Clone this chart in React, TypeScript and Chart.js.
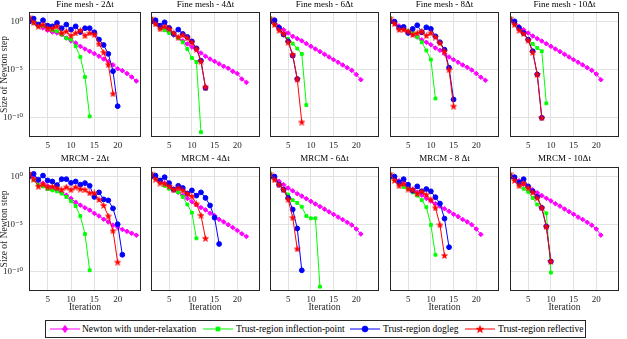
import React, { useEffect, useRef } from "react";
import { Chart, registerables } from "chart.js";

Chart.register(...registerables);

// ---------------- data: log10(size of Newton step) per iteration (1, 2, 3, ...) ----------------
const fine2Newton = [0.3, -0.14, -0.42, -0.66, -0.9, -1.08, -1.18, -1.35, -1.7, -2.0, -2.22, -2.57, -2.85, -3.08, -3.33, -3.6, -3.89, -4.16, -4.5, -4.9, -5.1, -5.4, -5.76, -6.18];
const fine2Inflection = [0.38, -0.14, -0.49, -0.42, -0.66, -0.9, -1.0, -1.35, -1.73, -1.87, -2.57, -3.68, -5.76, -9.86];
const fine2Dogleg = [0, 0.31, -0.31, 0.14, -0.42, -0.49, -0.14, -0.69, -0.31, -0.83, -0.49, -1.08, -0.69, -0.69, -1.11, -1.87, -2.43, -3.36, -5.16, -8.8];
const fine2Reflective = [0.49, -0.07, -0.49, -0.31, -0.69, -0.69, -0.49, -1.18, -1.0, -1.46, -1.18, -0.9, -1.46, -1.18, -1.35, -2.32, -3.19, -4.47, -7.5];

const fine4Newton = [0.2, -0.2, -0.5, -0.8, -1.1, -1.4, -1.7, -2.0, -2.32, -2.64, -2.92, -3.26, -3.6, -3.89, -4.13, -4.4, -4.64, -4.85, -5.17, -5.4, -5.97, -6.32];
const fine4Inflection = [0.28, -0.2, -0.66, -0.9, -1.18, -1.35, -1.7, -2.15, -2.85, -3.78, -4.2, -11.5];
const fine4Dogleg = [0, 0.14, -0.42, -0.07, -0.66, -1.28, -0.83, -1.28, -1.6, -2.05, -2.78, -4.06, -6.9];
const fine4Reflective = [0.35, -0.24, -0.76, -0.49, -0.76, -1.18, -1.6, -1.39, -1.7, -2.15, -2.85, -4.13, -6.8];

const fine6Newton = [0.15, -0.2, -0.5, -0.85, -1.18, -1.53, -1.77, -2.0, -2.29, -2.57, -2.85, -3.12, -3.4, -3.68, -3.96, -4.23, -4.51, -4.79, -5.07, -5.5, -6.04];
const fine6Inflection = [0.38, -0.31, -0.83, -1.35, -1.8, -2.29, -2.8, -3.36, -8.68];
const fine6Dogleg = [0, 0.14, -0.66, -1.35, -2.05, -3.54, -5.97];
const fine6Reflective = [0.35, -0.31, -0.9, -1.25, -2.15, -3.43, -5.97, -10.45];

const fine8Newton = [0.25, -0.15, -0.45, -0.75, -1.05, -1.35, -1.6, -1.9, -2.15, -2.4, -2.74, -2.98, -3.33, -3.68, -3.96, -4.23, -4.51, -4.75, -5.03, -5.4, -5.78, -6.1];
const fine8Inflection = [0.38, -0.14, -0.66, -0.76, -1.0, -1.18, -1.63, -2.15, -3.0, -3.95, -8.0];
const fine8Dogleg = [0, 0, -0.66, -0.55, -1.18, -0.76, -0.38, -1.11, -0.59, -0.76, -1.53, -2.15, -2.92, -4.79, -8.1];
const fine8Reflective = [0.35, -0.21, -0.83, -0.83, -1.0, -1.35, -1.18, -1.0, -1.46, -1.18, -1.6, -2.22, -3.08, -5.0, -8.8];

const fine10Newton = [0.15, -0.2, -0.5, -0.85, -1.18, -1.5, -1.77, -2.02, -2.3, -2.57, -2.85, -3.12, -3.4, -3.68, -3.96, -4.23, -4.5, -4.79, -5.07, -5.45, -6.04];
const fine10Inflection = [0.38, -0.2, -0.76, -1.28, -1.8, -2.32, -2.74, -3.08, -8.5];
const fine10Dogleg = [0.14, 0.03, -0.66, -1.18, -1.87, -3.08, -5.5, -10.0];
const fine10Reflective = [0.35, -0.31, -0.9, -1.25, -1.94, -3.19, -5.5, -10.0];

const mrcm2Newton = [0.3, -0.1, -0.45, -0.7, -1.0, -1.25, -1.45, -1.7, -1.95, -2.3, -2.69, -3.0, -3.28, -3.52, -3.86, -4.14, -4.48, -4.76, -5.1, -5.3, -5.55, -5.75, -5.95, -6.15];
const mrcm2Inflection = [0.17, -0.34, -0.86, -1.03, -1.31, -1.45, -1.55, -1.79, -2.14, -2.59, -3.1, -4.14, -6.03, -9.83];
const mrcm2Dogleg = [0, 0.28, -0.34, 0.1, -0.41, -0.52, -0.9, -0.28, -0.28, -0.66, -0.52, -0.86, -0.69, -0.97, -2.14, -1.66, -2.4, -2.5, -3.34, -5.0, -8.2];
const mrcm2Reflective = [0.34, -0.28, -1.03, -0.79, -1.1, -1.03, -1.2, -1.38, -1.1, -1.38, -1.1, -1.31, -1.38, -1.72, -1.72, -2.41, -3.03, -4.14, -5.69, -8.97];

const mrcm4Newton = [0.25, -0.1, -0.4, -0.7, -1.0, -1.3, -1.65, -2.0, -2.3, -2.65, -2.95, -3.25, -3.5, -3.85, -4.1, -4.5, -4.75, -5.05, -5.35, -5.65, -6.0, -6.28];
const mrcm4Inflection = [0.28, -0.17, -0.62, -0.97, -1.28, -1.38, -1.66, -2.14, -2.93, -3.79, -6.48];
const mrcm4Dogleg = [0, 0.1, -0.41, -0.07, -0.69, -1.38, -0.97, -1.2, -1.79, -1.45, -2.0, -1.66, -2.24, -3.03, -4.31, -7.07];
const mrcm4Reflective = [0.34, -0.28, -0.69, -0.76, -1.03, -1.38, -1.2, -1.45, -1.79, -2.07, -2.86, -4.07, -6.48];

const mrcm6Newton = [0.2, -0.15, -0.5, -0.85, -1.2, -1.5, -1.8, -2.05, -2.32, -2.6, -2.88, -3.15, -3.42, -3.7, -3.97, -4.25, -4.52, -4.8, -5.08, -5.5, -6.03];
const mrcm6Inflection = [0.34, -0.28, -0.76, -1.31, -1.9, -2.48, -2.76, -3.17, -4.14, -4.38, -4.38, -11.55];
const mrcm6Dogleg = [0, 0, -0.86, -1.38, -2.24, -3.45, -5.45, -9.83];
const mrcm6Reflective = [0.28, -0.34, -0.86, -1.38, -2.41, -4.31, -7.59];

const mrcm8Newton = [0.25, -0.15, -0.45, -0.75, -1.05, -1.35, -1.65, -1.95, -2.3, -2.55, -2.85, -3.1, -3.38, -3.65, -3.95, -4.2, -4.5, -4.75, -5.05, -5.5, -6.07];
const mrcm8Inflection = [0.17, -0.34, -0.76, -1.1, -1.31, -1.66, -2.0, -2.48, -3.21, -5.07, -8.2];
const mrcm8Dogleg = [0, 0, -0.62, -0.28, -0.86, -1.48, -1.03, -1.55, -1.31, -1.55, -2.17, -2.83, -4.41, -7.41];
const mrcm8Reflective = [0.28, -0.41, -0.97, -0.76, -1.31, -1.38, -1.79, -1.55, -1.9, -2.41, -3.28, -5.07, -8.28];

const mrcm10Newton = [0.2, -0.15, -0.45, -0.8, -1.1, -1.4, -1.7, -2.0, -2.28, -2.55, -2.85, -3.1, -3.4, -3.68, -3.95, -4.25, -4.5, -4.8, -5.1, -5.5, -6.14];
const mrcm10Inflection = [0.17, -0.34, -0.86, -1.28, -1.6, -2.24, -2.93, -3.3, -3.86, -10.07];
const mrcm10Dogleg = [0, -0.07, -0.62, -0.28, -1.03, -1.55, -2.14, -3.28, -5.24, -8.9];
const mrcm10Reflective = [0.28, -0.41, -0.97, -0.69, -1.2, -1.66, -2.24, -3.28, -5.24, -8.9];

const ROW1_TITLES = ["Fine mesh - 2Δt", "Fine mesh - 4Δt", "Fine mesh - 6Δt", "Fine mesh - 8Δt", "Fine mesh - 10Δt"];
const ROW2_TITLES = ["MRCM - 2Δt", "MRCM - 4Δt", "MRCM - 6Δt", "MRCM - 8 Δt", "MRCM - 10Δt"];
const SERIES_LABELS = ["Newton with under-relaxation", "Trust-region inflection-point", "Trust-region dogleg", "Trust-region reflective"];
const SERIES_COLORS = ["#ff00ff", "#00ff00", "#0000ff", "#ff0000"];
const X_TICKS = [5, 10, 15, 20];
const Y_TICKS = [1e-10, 1e-5, 1];
const Y_TICK_LABELS = ["10⁻¹⁰", "10⁻⁵", "10⁰"];
const X_LABEL = "Iteration";
const Y_LABEL = "Size of Newton step";

const ROW1_SERIES = [
  [fine2Newton, fine2Inflection, fine2Dogleg, fine2Reflective],
  [fine4Newton, fine4Inflection, fine4Dogleg, fine4Reflective],
  [fine6Newton, fine6Inflection, fine6Dogleg, fine6Reflective],
  [fine8Newton, fine8Inflection, fine8Dogleg, fine8Reflective],
  [fine10Newton, fine10Inflection, fine10Dogleg, fine10Reflective],
];
const ROW2_SERIES = [
  [mrcm2Newton, mrcm2Inflection, mrcm2Dogleg, mrcm2Reflective],
  [mrcm4Newton, mrcm4Inflection, mrcm4Dogleg, mrcm4Reflective],
  [mrcm6Newton, mrcm6Inflection, mrcm6Dogleg, mrcm6Reflective],
  [mrcm8Newton, mrcm8Inflection, mrcm8Dogleg, mrcm8Reflective],
  [mrcm10Newton, mrcm10Inflection, mrcm10Dogleg, mrcm10Reflective],
];

// ---------------- layout ----------------
const FONT = "'Liberation Serif', 'DejaVu Serif', serif";
const PLOT_LEFT = [29, 148, 267, 387, 507];
const PLOT_W = 115;
const RIGHT_PAD = 2;
const ROW_CANVAS_TOP = [0, 154];
const PLOT_TOP = [12, 167];
const PLOT_H = [125, 124];
const X_AXIS_H = [14, 24];
const GRID = "#e2e2e2";
const FRAME = "#262626";

Chart.defaults.font.family = FONT;

function makeStar(color: string): HTMLCanvasElement {
  const c = document.createElement("canvas");
  c.width = 7;
  c.height = 7;
  const ctx = c.getContext("2d")!;
  ctx.fillStyle = color;
  ctx.strokeStyle = color;
  ctx.lineWidth = 0.6;
  ctx.beginPath();
  for (let i = 0; i < 10; i++) {
    const r = i % 2 === 0 ? 3.2 : 1.35;
    const a = -Math.PI / 2 + (i * Math.PI) / 5;
    const px = 3.5 + r * Math.cos(a);
    const py = 3.8 + r * Math.sin(a);
    if (i === 0) ctx.moveTo(px, py);
    else ctx.lineTo(px, py);
  }
  ctx.closePath();
  ctx.fill();
  ctx.stroke();
  return c;
}

const framePlugin = {
  id: "frame",
  afterDraw(chart: any) {
    const { ctx, chartArea } = chart;
    const l = Math.round(chartArea.left) + 0.5;
    const t = Math.round(chartArea.top) + 0.5;
    const r = Math.round(chartArea.right) - 0.5;
    const b = Math.round(chartArea.bottom) - 0.5;
    ctx.save();
    ctx.strokeStyle = FRAME;
    ctx.lineWidth = 1;
    ctx.strokeRect(l, t, r - l, b - t);
    ctx.restore();
  },
};

const POINT_RADIUS = [2.3, 2.0, 2.4, 3];

function Panel({ row, col, title, series }: { row: number; col: number; title: string; series: number[][] }) {
  const ref = useRef<HTMLCanvasElement>(null);
  const first = col === 0;
  const canvasLeft = first ? 0 : PLOT_LEFT[col] - 2;
  const leftW = PLOT_LEFT[col] - canvasLeft;
  const width = leftW + PLOT_W + RIGHT_PAD;
  const top = ROW_CANVAS_TOP[row];
  const titleH = PLOT_TOP[row] - top;
  const height = titleH + PLOT_H[row] + X_AXIS_H[row];

  useEffect(() => {
    const styles: any[] = ["rectRot", "rect", "circle", makeStar(SERIES_COLORS[3])];
    const datasets = series.map((s, i) => ({
      label: SERIES_LABELS[i],
      data: s.map((e, k) => ({ x: k + 1, y: Math.pow(10, e) })),
      borderColor: SERIES_COLORS[i],
      backgroundColor: SERIES_COLORS[i],
      pointBackgroundColor: SERIES_COLORS[i],
      pointBorderColor: SERIES_COLORS[i],
      borderWidth: 1,
      pointStyle: styles[i],
      pointRadius: POINT_RADIUS[i],
      pointBorderWidth: 1,
      order: 4 - i,
      tension: 0,
    }));
    const chart = new Chart(ref.current!, {
      type: "line",
      data: { datasets },
      options: {
        animation: false,
        responsive: false,
        devicePixelRatio: 1,
        events: [],
        layout: { padding: { left: 0, right: RIGHT_PAD, top: 0, bottom: 0 } },
        plugins: {
          legend: { display: false },
          tooltip: { enabled: false },
          title: {
            display: true,
            text: title,
            fullSize: false,
            color: "#000",
            font: { size: 9, lineHeight: 1, weight: "normal", family: FONT },
            padding: { top: 0, bottom: titleH - 9 },
          },
        },
        scales: {
          x: {
            type: "linear",
            min: 1,
            max: 25,
            afterBuildTicks: (s: any) => {
              s.ticks = X_TICKS.map((v) => ({ value: v }));
            },
            afterFit: (s: any) => {
              s.height = X_AXIS_H[row];
            },
            ticks: {
              autoSkip: false,
              maxRotation: 0,
              padding: 3,
              color: "#262626",
              font: { size: 9, family: FONT },
              callback: (v: any) => String(v),
            },
            grid: { color: GRID, drawTicks: false, lineWidth: 1 },
            border: { display: false },
            title: {
              display: row === 1,
              text: X_LABEL,
              color: "#262626",
              font: { size: 9.5, lineHeight: 1, family: FONT },
              padding: { top: 0, bottom: 3 },
            },
          },
          y: {
            type: "logarithmic",
            min: 1e-12,
            max: 10,
            afterBuildTicks: (s: any) => {
              s.ticks = Y_TICKS.map((v) => ({ value: v }));
            },
            afterFit: (s: any) => {
              s.width = leftW;
            },
            ticks: {
              display: first,
              padding: 6,
              color: "#262626",
              font: { size: 9, family: FONT },
              callback: (_v: any, i: number) => Y_TICK_LABELS[i],
            },
            grid: { color: GRID, drawTicks: false, lineWidth: 1 },
            border: { display: false },
            title: {
              display: first,
              text: Y_LABEL,
              color: "#262626",
              font: { size: 9.5, lineHeight: 1, family: FONT },
              padding: { top: 0, bottom: 0 },
            },
          },
        },
      } as any,
      plugins: [framePlugin],
    });
    return () => chart.destroy();
  }, []);

  return (
    <canvas
      ref={ref}
      width={width}
      height={height}
      style={{ position: "absolute", left: canvasLeft, top, width, height }}
    />
  );
}

function starPoints(cx: number, cy: number, ro: number, ri: number): string {
  const pts: string[] = [];
  for (let i = 0; i < 10; i++) {
    const r = i % 2 === 0 ? ro : ri;
    const a = -Math.PI / 2 + (i * Math.PI) / 5;
    pts.push(`${(cx + r * Math.cos(a)).toFixed(2)},${(cy + r * Math.sin(a)).toFixed(2)}`);
  }
  return pts.join(" ");
}

function LegendMarker({ index }: { index: number }) {
  const c = SERIES_COLORS[index];
  let marker: React.ReactNode = null;
  if (index === 0) marker = <polygon points="15,4.3 17.8,8 15,11.7 12.2,8" fill={c} stroke={c} strokeWidth={0.6} />;
  if (index === 1) marker = <rect x={13} y={6} width={4} height={4} fill={c} stroke={c} strokeWidth={0.6} />;
  if (index === 2) marker = <circle cx={15} cy={8} r={3} fill={c} stroke={c} strokeWidth={0.6} />;
  if (index === 3) marker = <polygon points={starPoints(15, 8.4, 4, 1.7)} fill={c} stroke={c} strokeWidth={0.5} />;
  return (
    <svg width={30} height={16} style={{ display: "block" }}>
      <line x1={0} y1={8} x2={30} y2={8} stroke={c} strokeWidth={1} />
      {marker}
    </svg>
  );
}

const LEGEND_SWATCH_LEFT = [4, 157, 304, 419];
const LEGEND_TEXT_LEFT = [36, 190, 337, 452];

function Legend() {
  return (
    <div
      style={{
        position: "absolute",
        left: 45,
        top: 320,
        width: 541,
        height: 18,
        boxSizing: "border-box",
        border: `1px solid ${FRAME}`,
        background: "#fff",
      }}
    >
      {SERIES_LABELS.map((label, i) => (
        <React.Fragment key={label}>
          <div style={{ position: "absolute", left: LEGEND_SWATCH_LEFT[i], top: 0 }}>
            <LegendMarker index={i} />
          </div>
          <div
            style={{
              position: "absolute",
              left: LEGEND_TEXT_LEFT[i],
              top: 0,
              height: 16,
              lineHeight: "16px",
              fontFamily: FONT,
              fontSize: 9.5,
              color: "#000",
              whiteSpace: "nowrap",
            }}
          >
            {label}
          </div>
        </React.Fragment>
      ))}
    </div>
  );
}

export default function App() {
  useEffect(() => {
    document.body.style.margin = "0";
    document.body.style.background = "#fff";
  }, []);
  return (
    <div style={{ position: "absolute", left: 0, top: 0, width: 627, height: 339, background: "#fff", overflow: "hidden" }}>
      {ROW1_SERIES.map((s, c) => (
        <Panel key={`r1-${c}`} row={0} col={c} title={ROW1_TITLES[c]} series={s} />
      ))}
      {ROW2_SERIES.map((s, c) => (
        <Panel key={`r2-${c}`} row={1} col={c} title={ROW2_TITLES[c]} series={s} />
      ))}
      <Legend />
    </div>
  );
}
